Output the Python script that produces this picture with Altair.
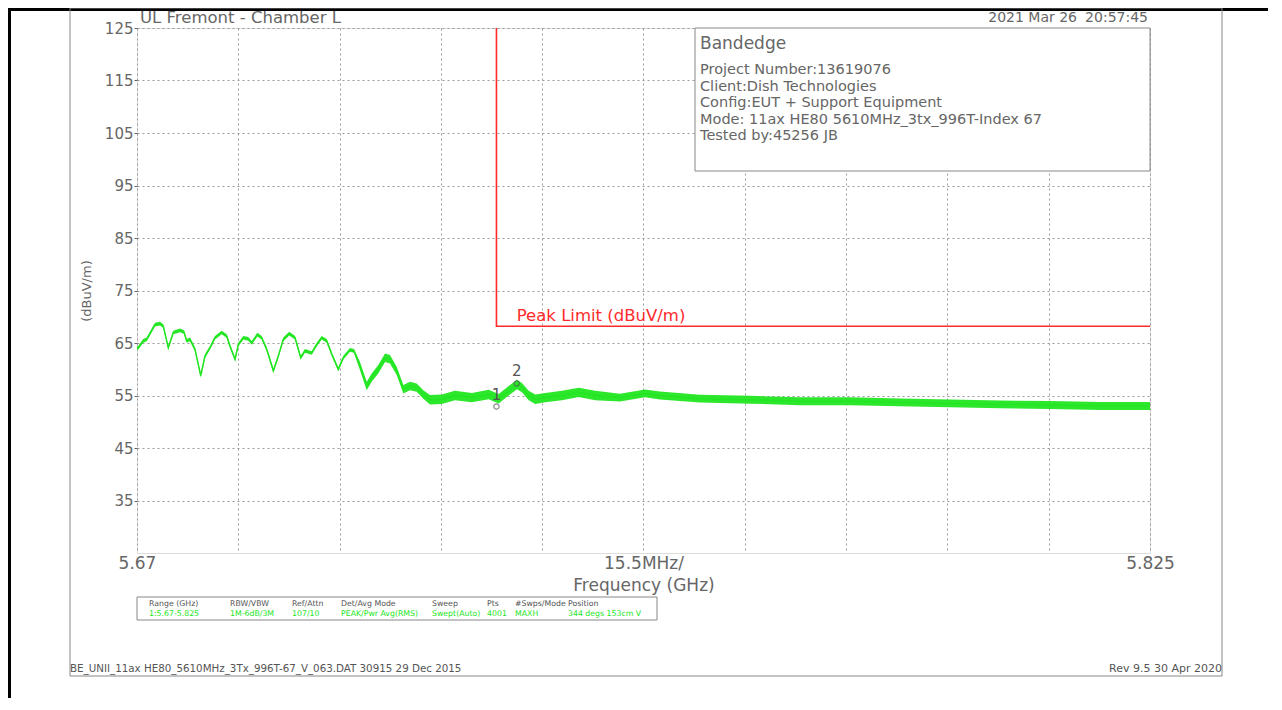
import altair as alt
import pandas as pd

# ---------------- data ----------------
trace_ghz = [5.6700, 5.6702, 5.67096, 5.67148, 5.67275, 5.67352, 5.67402, 5.67479, 5.67555, 5.67658,
             5.67719, 5.6776, 5.67811, 5.67887, 5.67975, 5.6804, 5.68117, 5.68193, 5.68296, 5.68373,
             5.68423, 5.6850, 5.6855, 5.68627, 5.68703, 5.68755, 5.68841, 5.68908, 5.68985, 5.69086,
             5.69162, 5.69239, 5.6933, 5.69418, 5.69505, 5.6957, 5.69673, 5.6975, 5.69826, 5.69903,
             5.69979, 5.7008, 5.70157, 5.70259, 5.7032, 5.70412, 5.70515, 5.70591, 5.70692, 5.70795,
             5.70871, 5.70974, 5.71075, 5.71177, 5.7128, 5.71381, 5.71483, 5.71664, 5.71864, 5.72125,
             5.72381, 5.72534, 5.72687, 5.72814, 5.7289, 5.72993, 5.73094, 5.73247, 5.73502, 5.73758,
             5.74012, 5.7439, 5.74773, 5.7500, 5.75614, 5.7638, 5.77145, 5.7791, 5.78675, 5.7944,
             5.80205, 5.8097, 5.81735, 5.8250]
trace_db = [64.0, 64.1, 65.4, 65.7, 68.5, 68.7, 68.2, 64.1, 67.0, 67.4,
            67.1, 65.4, 65.7, 63.8, 58.8, 62.5, 64.1, 66.0, 67.0, 66.3,
            64.4, 61.9, 64.7, 66.0, 65.8, 65.0, 66.6, 66.0, 63.8, 59.7,
            62.5, 65.7, 66.8, 66.0, 62.2, 63.5, 63.1, 64.7, 66.0, 65.4,
            62.9, 60.0, 62.2, 63.7, 63.5, 60.6, 56.8, 58.4, 60.0, 62.2,
            61.9, 59.7, 56.2, 56.8, 56.5, 55.2, 54.2, 54.3, 55.0, 54.6,
            55.2, 54.4, 55.9, 57.1, 56.5, 55.0, 54.3, 54.6, 55.0, 55.6,
            55.0, 54.6, 55.4, 55.0, 54.4, 54.2, 53.9, 53.9, 53.7, 53.5,
            53.3, 53.2, 53.0, 53.0]
trace_spread = [0.35] * 45 + [0.8] * 11 + [0.9] * 15 + [0.75] * 13

limit_ghz = [5.725, 5.725, 5.825]
limit_db = [125.0, 68.2, 68.2]

marker_ids = ["1", "2"]
marker_ghz = [5.7250, 5.7281]
marker_db = [52.9, 57.3]

x_ticks = [5.67, 5.6855, 5.701, 5.7165, 5.732, 5.7475, 5.763, 5.7785, 5.794, 5.8095, 5.825]
y_ticks = [35, 45, 55, 65, 75, 85, 95, 105, 115, 125]

title_left = "UL Fremont - Chamber L"
title_date = "2021 Mar 26"
title_time = "20:57:45"
info_head = "Bandedge"
info_lines = ["Project Number:13619076",
              "Client:Dish Technologies",
              "Config:EUT + Support Equipment",
              "Mode: 11ax HE80 5610MHz_3tx_996T-Index 67",
              "Tested by:45256 JB"]
limit_label = "Peak Limit (dBuV/m)"
table_heads = ["Range (GHz)", "RBW/VBW", "Ref/Attn", "Det/Avg Mode", "Sweep", "Pts", "#Swps/Mode", "Position"]
table_vals = ["1:5.67-5.825", "1M-6dB/3M", "107/10", "PEAK/Pwr Avg(RMS)", "Swept(Auto)", "4001", "MAXH", "344 degs 153cm V"]
footer_left = "BE_UNII_11ax HE80_5610MHz_3Tx_996T-67_V_063.DAT 30915 29 Dec 2015"
footer_right = "Rev 9.5 30 Apr 2020"

# ---------------- build ----------------
FONT = "DejaVu Sans"
GRAY = "#666666"
GREEN = "#22e622"
RED = "#ff2a2a"

trace = pd.DataFrame({"ghz": trace_ghz, "db": trace_db, "sp": trace_spread})
trace["lo"] = trace["db"] - trace["sp"]
trace["hi"] = trace["db"] + trace["sp"]
limit = pd.DataFrame({"ghz": limit_ghz, "db": limit_db, "o": list(range(len(limit_ghz)))})
markers = pd.DataFrame({"id": marker_ids, "ghz": marker_ghz, "db": marker_db})

xscale = alt.Scale(domain=[5.67, 5.825], nice=False, zero=False)
yscale = alt.Scale(domain=[25, 125], nice=False, zero=False)

label_expr = ("abs(datum.value-5.67)<1e-6 ? '5.67' : (abs(datum.value-5.825)<1e-6 ? '5.825' : "
              "(abs(datum.value-5.7475)<1e-6 ? '15.5MHz/' : ''))")

x_axis = alt.Axis(values=x_ticks, labelExpr=label_expr, grid=True, gridDash=[2, 3], gridColor="#9a9a9a",
                  ticks=False, domain=False, labelFont=FONT, labelFontSize=17, labelColor=GRAY,
                  labelPadding=2, labelFlush=False, title="Frequency (GHz)", titleFont=FONT,
                  titleFontSize=17, titleFontWeight="normal", titleColor=GRAY, titlePadding=6)
y_axis = alt.Axis(values=y_ticks, grid=True, gridDash=[2, 3], gridColor="#9a9a9a", ticks=True,
                  tickSize=3, tickColor=GRAY, domain=False, labelFont=FONT, labelFontSize=15,
                  labelColor=GRAY, labelPadding=1, title="(dBuV/m)", titleFont=FONT, titleFontSize=13,
                  titleFontWeight="normal", titleColor=GRAY, titlePadding=11)

one = pd.DataFrame({"a": [0]})

# page frame
page_rect = alt.Chart(one).mark_rect(fill=None, stroke="#888888", strokeWidth=1).encode(
    x=alt.value(-67), x2=alt.value(1085), y=alt.value(-20), y2=alt.value(648))
black_top = alt.Chart(one).mark_rule(color="black", strokeWidth=3).encode(
    x=alt.value(-129), x2=alt.value(1140), y=alt.value(-18.5))
black_left = alt.Chart(one).mark_rule(color="black", strokeWidth=3).encode(
    x=alt.value(-127.5), y=alt.value(-20), y2=alt.value(680))

band = alt.Chart(trace).mark_area(color=GREEN, opacity=0.95).encode(
    x=alt.X("ghz:Q", scale=xscale, axis=x_axis),
    y=alt.Y("lo:Q", scale=yscale, axis=y_axis),
    y2="hi:Q")
line = alt.Chart(trace).mark_line(color=GREEN, strokeWidth=1.5).encode(
    x=alt.X("ghz:Q", scale=xscale), y=alt.Y("db:Q", scale=yscale))

limit_line = alt.Chart(limit).mark_line(color=RED, strokeWidth=1.6).encode(
    x=alt.X("ghz:Q", scale=xscale), y=alt.Y("db:Q", scale=yscale), order="o:Q")
limit_text = alt.Chart(pd.DataFrame({"ghz": [5.7281], "db": [70.2], "t": [limit_label]})).mark_text(
    font=FONT, fontSize=16.5, color=RED, align="left", baseline="middle").encode(
    x=alt.X("ghz:Q", scale=xscale), y=alt.Y("db:Q", scale=yscale), text="t:N")

mk_pts = alt.Chart(markers).mark_point(shape="circle", size=28, filled=False, color="#555555",
                                       strokeWidth=1.2).encode(
    x=alt.X("ghz:Q", scale=xscale), y=alt.Y("db:Q", scale=yscale))
mk_txt = alt.Chart(markers).mark_text(font=FONT, fontSize=15, color="#555555", dy=-12).encode(
    x=alt.X("ghz:Q", scale=xscale), y=alt.Y("db:Q", scale=yscale), text="id:N")

# info box
info_box = alt.Chart(one).mark_rect(fill="white", stroke="#888888", strokeWidth=1).encode(
    x=alt.value(558), x2=alt.value(1013), y=alt.value(0), y2=alt.value(143))
texts = [
    alt.Chart(one).mark_text(font=FONT, fontSize=17, color=GRAY, align="left", baseline="middle").encode(
        x=alt.value(563), y=alt.value(16), text=alt.value(info_head))
]
for i, s in enumerate(info_lines):
    texts.append(alt.Chart(one).mark_text(font=FONT, fontSize=14.5, color=GRAY, align="left",
                                          baseline="middle").encode(
        x=alt.value(563), y=alt.value(42 + i * 16.5), text=alt.value(s)))

# titles
texts.append(alt.Chart(one).mark_text(font=FONT, fontSize=16.5, color=GRAY, align="left",
                                      baseline="middle").encode(
    x=alt.value(3), y=alt.value(-10), text=alt.value(title_left)))
texts.append(alt.Chart(one).mark_text(font=FONT, fontSize=14, color=GRAY, align="right",
                                      baseline="middle").encode(
    x=alt.value(940), y=alt.value(-10), text=alt.value(title_date)))
texts.append(alt.Chart(one).mark_text(font=FONT, fontSize=14, color=GRAY, align="right",
                                      baseline="middle").encode(
    x=alt.value(1011), y=alt.value(-10), text=alt.value(title_time)))

# parameter table
table_box = alt.Chart(one).mark_rect(fill="white", stroke="#888888", strokeWidth=1).encode(
    x=alt.value(0), x2=alt.value(520), y=alt.value(569), y2=alt.value(592))
col_x = [12, 93, 155, 204, 295, 350, 378, 431]
for cx, h, v in zip(col_x, table_heads, table_vals):
    texts.append(alt.Chart(one).mark_text(font=FONT, fontSize=7.8, color="#555555", align="left",
                                          baseline="middle").encode(
        x=alt.value(cx), y=alt.value(576), text=alt.value(h)))
    texts.append(alt.Chart(one).mark_text(font=FONT, fontSize=7.8, color=GREEN, align="left",
                                          baseline="middle").encode(
        x=alt.value(cx), y=alt.value(586), text=alt.value(v)))

# footers
texts.append(alt.Chart(one).mark_text(font=FONT, fontSize=10.3, color="#555555", align="left",
                                      baseline="middle").encode(
    x=alt.value(-67), y=alt.value(641), text=alt.value(footer_left)))
texts.append(alt.Chart(one).mark_text(font=FONT, fontSize=11, color="#555555", align="right",
                                      baseline="middle").encode(
    x=alt.value(1085), y=alt.value(641), text=alt.value(footer_right)))

chart = alt.layer(
    band, line, black_top, black_left, page_rect, limit_line, limit_text, mk_pts, mk_txt,
    info_box, table_box, *texts
).properties(
    width=1013, height=525,
    padding={"left": 129, "top": 20, "right": 118, "bottom": 145},
    autosize=alt.AutoSizeParams(type="none"),
).configure_view(stroke="#888888", strokeWidth=1).configure(background="white")

chart.save("out.html", embed_options={"renderer": "svg", "actions": False})
